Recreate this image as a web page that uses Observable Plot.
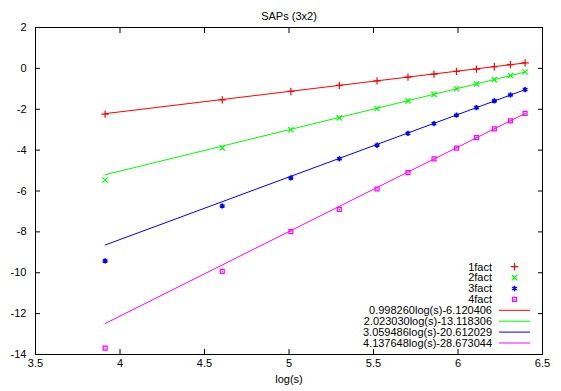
<!DOCTYPE html>
<html>
<head>
<meta charset="utf-8">
<script src="https://cdn.jsdelivr.net/npm/d3@7"></script>
<script src="https://cdn.jsdelivr.net/npm/@observablehq/plot@0.6"></script>
<style>
  html, body { margin: 0; padding: 0; background: #fff; }
  #chart { width: 561px; height: 391px; }
</style>
</head>
<body>
<div id="chart"></div>
<script>
const title = "SAPs (3x2)";
const xLabel = "log(s)";
const xTicks = [3.5, 4, 4.5, 5, 5.5, 6, 6.5];
const yTicks = [-14, -12, -10, -8, -6, -4, -2, 0, 2];

const logS  = [3.912, 4.605, 5.011, 5.298, 5.521, 5.704, 5.858, 5.991, 6.109, 6.215, 6.310, 6.397];
const fact1 = [-2.24, -1.54, -1.13, -0.83, -0.61, -0.43, -0.28, -0.15, -0.04, 0.08, 0.18, 0.27];
const fact2 = [-5.46, -3.89, -3.00, -2.42, -1.96, -1.59, -1.27, -1.00, -0.76, -0.55, -0.35, -0.18];
const fact3 = [-9.42, -6.73, -5.36, -4.42, -3.76, -3.18, -2.70, -2.29, -1.92, -1.59, -1.30, -1.04];
const fact4 = [-13.69, -9.93, -7.99, -6.90, -5.90, -5.10, -4.43, -3.90, -3.39, -2.96, -2.57, -2.20];

const seriesNames = ["1fact", "2fact", "3fact", "4fact"];
const seriesColors = ["#ff0000", "#00ff00", "#0000ff", "#ff00ff"];
const seriesSymbols = ["plus", "times", "asterisk", "square2"];
const fitSlopes = [0.998260, 2.023030, 3.059486, 4.137648];
const fitIntercepts = [-6.120406, -13.118306, -20.612029, -28.673044];
const fitLabels = ["0.998260log(s)-6.120406", "2.023030log(s)-13.118306", "3.059486log(s)-20.612029", "4.137648log(s)-28.673044"];

const seriesValues = [fact1, fact2, fact3, fact4];
const points = seriesValues.flatMap((vals, k) => vals.map((v, i) => ({x: logS[i], y: v, k})));
const fitEnds = [logS[0], logS[logS.length - 1]];
const fits = fitSlopes.flatMap((a, k) => fitEnds.map(x => ({x, y: a * x + fitIntercepts[k], k})));

const font = "'Liberation Sans', Arial, Helvetica, sans-serif";
const markerR = 2.5;

const marks = [
  Plot.frame({stroke: "#000", strokeWidth: 1}),
  Plot.axisX({anchor: "bottom", ticks: xTicks, tickSize: -5, tickPadding: 10, tickFormat: d => String(d), label: null, fill: "#000", stroke: "#000"}),
  Plot.axisX({anchor: "top", ticks: xTicks, tickSize: -5, tickFormat: () => "", label: null, stroke: "#000"}),
  Plot.axisY({anchor: "left", ticks: yTicks, tickSize: -5, tickPadding: 14, tickFormat: d => String(d), label: null, fill: "#000", stroke: "#000"}),
  Plot.axisY({anchor: "right", ticks: yTicks, tickSize: -5, tickFormat: () => "", label: null, stroke: "#000"})
];
for (let k = 0; k < 4; k++) {
  marks.push(Plot.line(fits.filter(d => d.k === k), {x: "x", y: "y", stroke: seriesColors[k], strokeWidth: 1}));
}
for (let k = 0; k < 4; k++) {
  marks.push(Plot.dot(points.filter(d => d.k === k), {x: "x", y: "y", symbol: () => seriesSymbols[k], stroke: seriesColors[k], fill: "none", r: markerR, strokeWidth: k === 2 ? 1.6 : 1.2}));
}
marks.push(Plot.dot(points.filter(d => d.k === 3), {x: "x", y: "y", fill: seriesColors[3], r: 0.7}));
marks.push(Plot.text([title], {frameAnchor: "top", dy: -15, fontSize: 11, fill: "#000"}));
marks.push(Plot.text([xLabel], {frameAnchor: "bottom", dy: 28, fontSize: 11, fill: "#000"}));

const svg = Plot.plot({
  width: 561,
  height: 391,
  marginLeft: 35,
  marginRight: 19,
  marginTop: 27,
  marginBottom: 37,
  style: {fontFamily: font, fontSize: "11px", color: "#000", background: "#fff"},
  x: {domain: [3.5, 6.5]},
  y: {domain: [-14, 2]},
  symbol: {type: "identity"},
  marks
});

// key (legend) in the upper-right area of the plot, as in the gnuplot original
const g = d3.select(svg).append("g").attr("font-family", font).attr("font-size", 11);
const keyRows = [
  ...seriesNames.map((n, k) => ({label: n, k, kind: "point"})),
  ...fitLabels.map((n, k) => ({label: n, k, kind: "line"}))
];
const symbolTypes = [d3.symbolPlus, d3.symbolTimes, d3.symbolAsterisk, d3.symbolSquare2];
const keyTop = 266.7, keyStep = 10.9, textRight = 492, sampleX = 514.5, lineX1 = 499, lineX2 = 530;
keyRows.forEach((row, i) => {
  const y = keyTop + i * keyStep;
  g.append("text").attr("x", textRight).attr("y", y).attr("dy", "0.35em")
    .attr("text-anchor", "end").attr("fill", "#000").text(row.label);
  if (row.kind === "point") {
    g.append("path").attr("transform", `translate(${sampleX},${y})`)
      .attr("d", d3.symbol(symbolTypes[row.k], Math.PI * markerR * markerR)())
      .attr("fill", "none").attr("stroke", seriesColors[row.k]).attr("stroke-width", row.k === 2 ? 1.6 : 1.2);
    if (row.k === 3) g.append("circle").attr("cx", sampleX).attr("cy", y).attr("r", 0.7).attr("fill", seriesColors[3]);
  } else {
    g.append("line").attr("x1", lineX1).attr("x2", lineX2).attr("y1", y).attr("y2", y)
      .attr("stroke", seriesColors[row.k]).attr("stroke-width", 1);
  }
});

document.getElementById("chart").appendChild(svg);
</script>
</body>
</html>
